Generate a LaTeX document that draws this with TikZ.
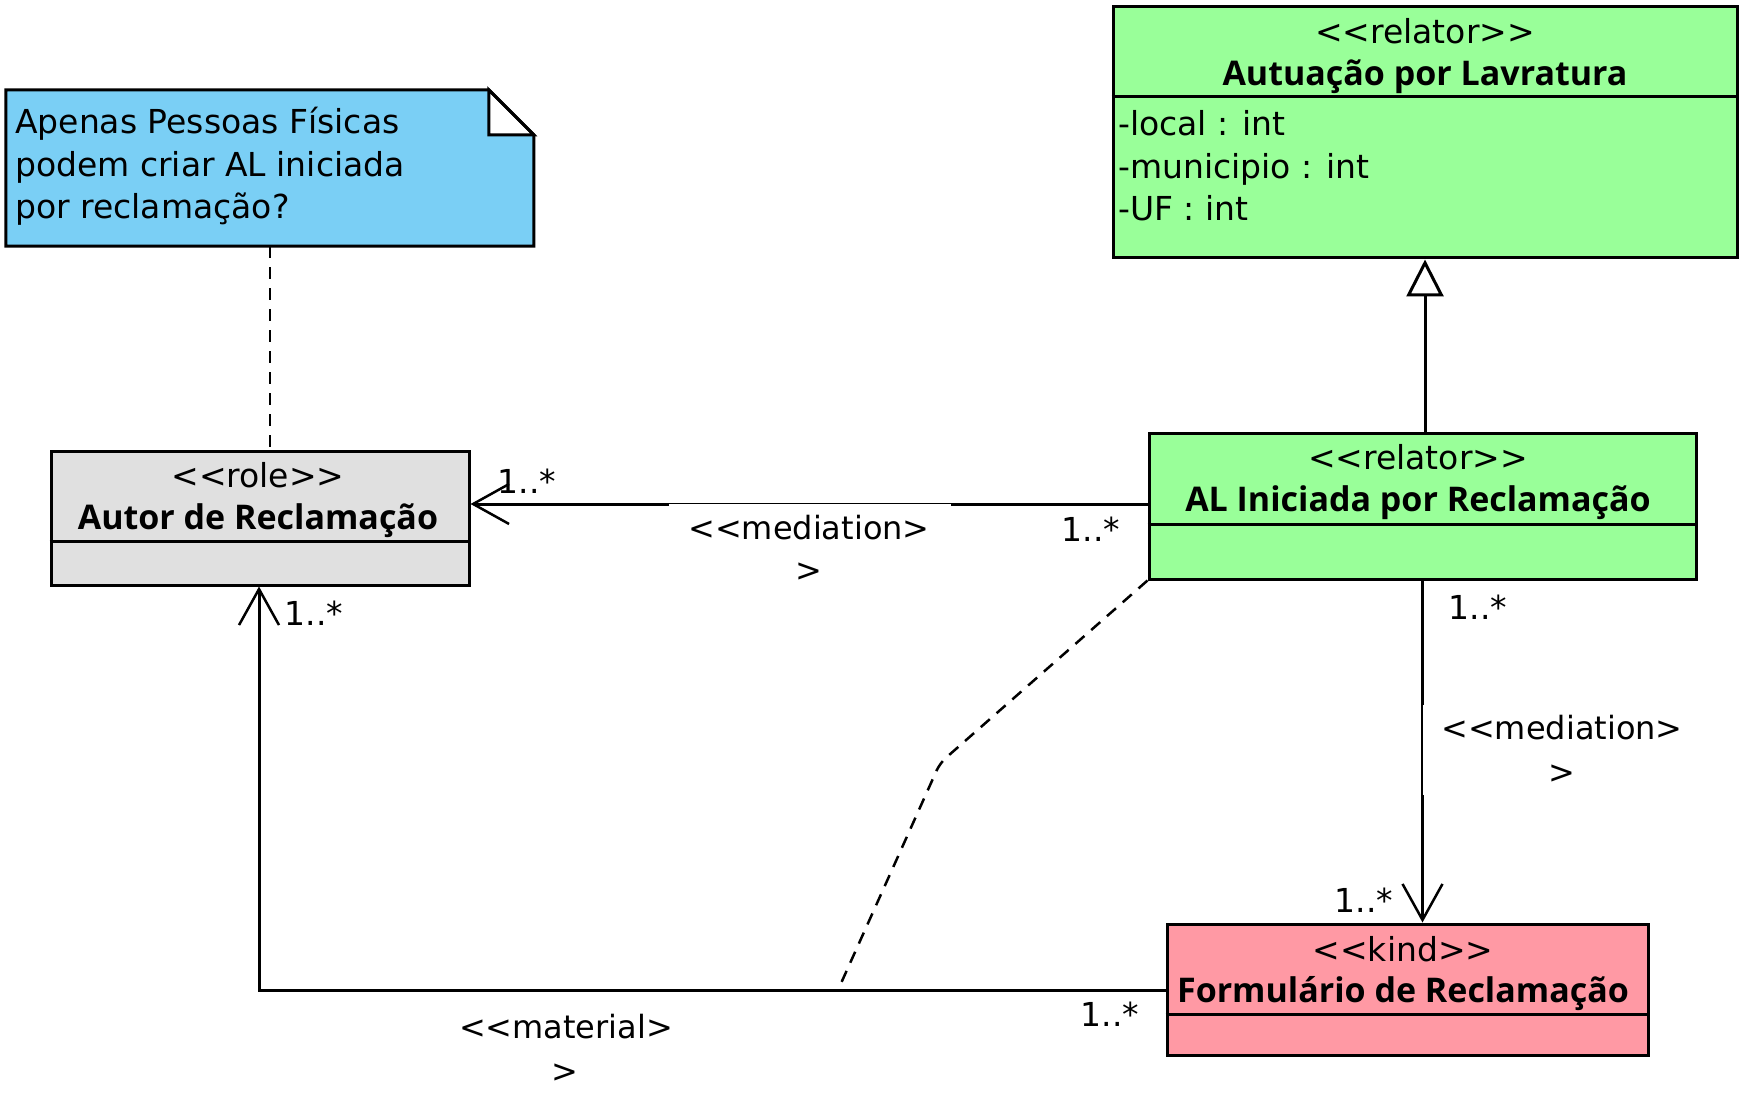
\documentclass[tikz,border=0pt]{standalone}
\usepackage{fontspec}
\setmainfont{DejaVu Sans}[Ligatures=TeXOff]
\newfontfamily\boldfam{Open Sans}[Ligatures=TeXOff]
\usetikzlibrary{arrows.meta}
\definecolor{relgreen}{RGB}{153,255,153}
\definecolor{kindpink}{RGB}{255,153,164}
\definecolor{rolegray}{RGB}{224,224,224}
\definecolor{noteblue}{RGB}{122,207,245}
\tikzset{
  umlbox/.style={draw, line width=3pt, inner sep=0pt, rectangle},
  txt/.style={inner sep=0pt, anchor=base, font=\fontsize{33}{42}\selectfont},
  btxt/.style={inner sep=0pt, anchor=base, font=\fontsize{34}{42}\selectfont\boldfam\bfseries},
  ltxt/.style={txt, anchor=base west},
  sep/.style={line width=3pt},
  conn/.style={line width=3pt},
  dashline/.style={line width=2.5pt, dash pattern=on 12pt off 9pt},
  openarrow/.style={-{Straight Barb[length=36pt,width=40pt,line width=2.5pt]}},
  genarrow/.style={-{Triangle[open,length=37pt,width=37pt,line width=3pt,fill=white]}},
  mult/.style={txt},
  lbl/.style={txt, font=\fontsize{32}{42}\selectfont},
}
\begin{document}
\begin{tikzpicture}[x=1pt,y=-1pt]
\useasboundingbox (0,0) rectangle (1749,1107);

% ---- note ----
\node[inner sep=0pt, minimum width=528pt, minimum height=156pt] (note) at (270,168) {};
\fill[noteblue] (note.north west) -- ++(483,0) -- ++(45,45) |- (note.south west) -- cycle;
\draw[line width=3pt, fill=white] (note.north west) ++(483,0) -- ++(0,45) -- ++(45,0) -- cycle;
\draw[line width=3pt, line join=miter] (note.north west) -- ++(483,0) -- ++(45,45) |- (note.south west) -- cycle;
\node[ltxt] (n1) at (15,134) {Apenas Pessoas Físicas};
\node[ltxt] (n2) at (15,176.5) {podem criar AL iniciada};
\node[ltxt] (n3) at (15,219) {por reclamação?};

% ---- Autuação por Lavratura ----
\node[umlbox, fill=relgreen, minimum width=624pt, minimum height=251pt] (autuacao) at (1425,132.5) {};
\draw[sep] (autuacao.west |- 0,97) -- (autuacao.east |- 0,97);
\node[txt] (a1) at (1425,43.5) {<<relator>>};
\node[btxt] (a2) at (1425,86) {Autuação por Lavratura};
\node[ltxt] (a3) at (1118,136) {-local : int};
\node[ltxt] (a4) at (1118,179) {-municipio : int};
\node[ltxt] (a5) at (1118,221) {-UF : int};

% ---- Autor de Reclamação ----
\node[umlbox, fill=rolegray, minimum width=418pt, minimum height=134pt] (autor) at (260,518) {};
\draw[sep] (autor.west |- 0,541) -- (autor.east |- 0,541);
\node[txt] (r1) at (258,487.5) {<<role>>};
\node[btxt] (r2) at (258,529) {Autor de Reclamação};

% ---- AL Iniciada por Reclamação ----
\node[umlbox, fill=relgreen, minimum width=547pt, minimum height=146pt] (al) at (1422.5,506) {};
\draw[sep] (al.west |- 0,524) -- (al.east |- 0,524);
\node[txt] (l1) at (1418,469.5) {<<relator>>};
\node[btxt] (l2) at (1418,511) {AL Iniciada por Reclamação};

% ---- Formulário de Reclamação ----
\node[umlbox, fill=kindpink, minimum width=481pt, minimum height=131pt] (form) at (1407.5,989.5) {};
\draw[sep] (form.west |- 0,1014) -- (form.east |- 0,1014);
\node[txt] (f1) at (1403,961) {<<kind>>};
\node[btxt] (f2) at (1403,1002.5) {Formulário de Reclamação};

% ---- connectors ----
\draw[dashline] (note.south) -- (note.south |- autor.north);
\draw[conn, genarrow] (autuacao.south |- al.north) -- (autuacao.south);

\coordinate (m1) at (0,504);
\draw[conn, openarrow] (al.west |- m1) -- (autor.east |- m1);
\fill[white] (669,504.2) rectangle (951,506);
\node[lbl] (m1a) at (809,539) {<<mediation>};
\node[lbl] (m1b) at (809,581) {>};
\node[mult] (u1) at (527,493) {1..*};
\node[mult] (u2) at (1091,541) {1..*};

\draw[conn, openarrow] (al.south) -- (al.south |- form.north);
\fill[white] (1422.8,705) rectangle (1425,795);
\node[lbl] (m2a) at (1562,739.5) {<<mediation>};
\node[lbl] (m2b) at (1562,783) {>};
\node[mult] (u3) at (1478,619) {1..*};
\node[mult] (u4) at (1364,912.5) {1..*};

\coordinate (mc) at (259,990);
\draw[conn, openarrow] (form.west |- mc) -- (mc) -- (mc |- autor.south);
\node[lbl] (m3a) at (566,1038.5) {<<material>};
\node[lbl] (m3b) at (565,1082) {>};
\node[mult] (u5) at (314,625) {1..*};
\node[mult] (u6) at (1110,1026) {1..*};

\coordinate (db) at (940,763);
\coordinate (de) at (838,990);
\draw[dashline, rounded corners=8pt] (al.south west) -- (db) -- (de);
\end{tikzpicture}
\end{document}
